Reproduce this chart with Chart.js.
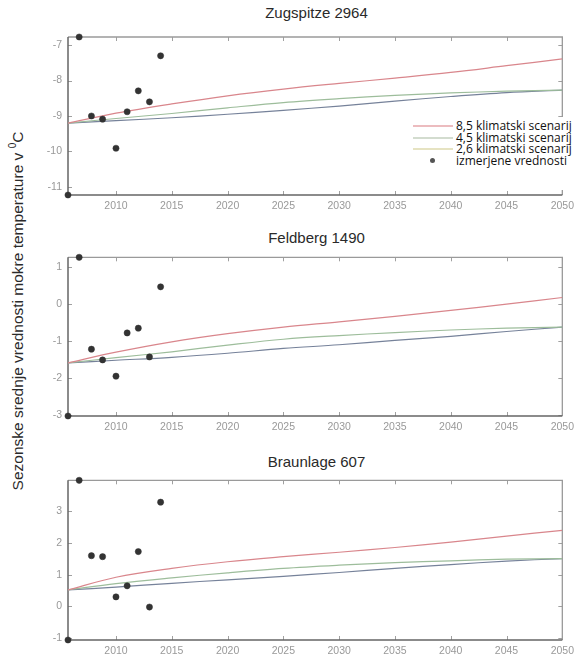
<!DOCTYPE html>
<html>
<head>
<meta charset="utf-8">
<script src="https://cdn.jsdelivr.net/npm/chart.js"></script>
<style>
    body { margin: 0; width: 579px; height: 657px; overflow: hidden; background: #fff; position: relative; font-family: 'Liberation Sans', Arial, sans-serif; }
    canvas { position: absolute; left: 0; }
    .naslov { position: absolute; left: 68px; width: 497px; text-align: center; font-size: 15px; font-weight: normal; line-height: 18px; color: #2a2a2a; }
    #ylabel { position: absolute; left: 17px; top: 311px; transform: translate(-50%, -50%) rotate(-90deg); white-space: nowrap; font-size: 15.5px; color: #2a2a2a; }
    #ylabel sup { font-size: 10px; }
    #legenda { position: absolute; left: 402px; top: 117px; width: 190px; height: 73px; background: #fff; font-family: 'Open Sans', sans-serif; font-size: 12px; color: #111; }
    .vrstica { position: absolute; left: 0; height: 12px; line-height: 12px; white-space: nowrap; }
    .crta { position: absolute; left: 11px; top: 5px; width: 40px; height: 2px; }
    .pika { position: absolute; left: 28px; top: 3px; width: 5px; height: 5px; border-radius: 50%; background: #555; }
    .besedilo { position: absolute; left: 54px; top: 0; }
</style>
</head>
<body>

<div class="naslov" style="top:4px">Zugspitze 2964</div>
<div class="naslov" style="top:229px">Feldberg 1490</div>
<div class="naslov" style="top:453px">Braunlage 607</div>
<div id="ylabel">Sezonske srednje vrednosti mokre temperature v <sup>0</sup>C</div>

<canvas id="graf-zugspitze" width="579" height="200" style="top:22px"></canvas>
<canvas id="graf-feldberg" width="579" height="200" style="top:245px"></canvas>
<canvas id="graf-braunlage" width="579" height="189" style="top:468px"></canvas>

<div id="legenda"></div>

<script>
// years of the scenario curves and of the measurements
const leta = [2005.7, 2010, 2015, 2020, 2025, 2030, 2035, 2040, 2045, 2050];
const letaMeritev = [2007.8, 2008.8, 2010, 2011, 2012, 2013, 2014];
const xTicks = [2010, 2015, 2020, 2025, 2030, 2035, 2040, 2045, 2050];

const oznake = ['8,5 klimatski scenarij', '4,5 klimatski scenarij', '2,6 klimatski scenarij', 'izmerjene vrednosti'];

// Zugspitze 2964
const zugRcp85 = [-9.2, -8.92, -8.66, -8.43, -8.24, -8.08, -7.93, -7.77, -7.58, -7.39];
const zugRcp45 = [-9.2, -9.07, -8.93, -8.77, -8.62, -8.51, -8.42, -8.35, -8.3, -8.27];
const zugRcp26 = [-9.2, -9.13, -9.05, -8.95, -8.84, -8.72, -8.58, -8.45, -8.34, -8.27];
const zugMeritve = [-9.0, -9.09, -9.91, -8.88, -8.29, -8.6, -7.3];
const zugY = [-11.23, -6.77];

// Feldberg 1490
const felRcp85 = [-1.59, -1.3, -1.02, -0.8, -0.62, -0.48, -0.33, -0.17, 0.0, 0.18];
const felRcp45 = [-1.59, -1.45, -1.29, -1.11, -0.95, -0.85, -0.77, -0.7, -0.65, -0.62];
const felRcp26 = [-1.59, -1.52, -1.44, -1.33, -1.2, -1.1, -0.98, -0.87, -0.74, -0.62];
const felMeritve = [-1.22, -1.51, -1.95, -0.78, -0.65, -1.43, 0.47];
const felY = [-3.03, 1.27];

// Braunlage 607
const brRcp85 = [0.52, 0.92, 1.2, 1.41, 1.57, 1.71, 1.86, 2.03, 2.22, 2.4];
const brRcp45 = [0.52, 0.72, 0.9, 1.06, 1.2, 1.3, 1.38, 1.44, 1.49, 1.51];
const brRcp26 = [0.52, 0.61, 0.73, 0.84, 0.95, 1.07, 1.2, 1.32, 1.43, 1.51];
const brMeritve = [1.6, 1.57, 0.3, 0.65, 1.73, -0.02, 3.29];
const brY = [-1.06, 3.98];

const xMin = 2005.7;
const xMax = 2050;

const barve = ['#d9868c', '#9dbd9b', '#76829a', '#333333'];
const barveLegenda = ['#ecbcbf', '#d3dccf', '#e6e3c2'];

// box round the plot and small inward ticks on all 4 sides (matlab look)
const okvir = {
    id: 'okvir',
    beforeDatasetsDraw(chart) {
        const a = chart.chartArea;
        const ctx = chart.ctx;
        const xs = chart.scales.x;
        const ys = chart.scales.y;
        ctx.save();
        ctx.lineWidth = 1;
        ctx.strokeStyle = '#a0a0a0';
        xs.ticks.forEach(t => {
            const px = Math.round(xs.getPixelForValue(t.value)) + 0.5;
            ctx.beginPath();
            ctx.moveTo(px, a.bottom); ctx.lineTo(px, a.bottom - 4);
            ctx.moveTo(px, a.top); ctx.lineTo(px, a.top + 4);
            ctx.stroke();
        });
        ys.ticks.forEach(t => {
            const py = Math.round(ys.getPixelForValue(t.value)) + 0.5;
            ctx.beginPath();
            ctx.moveTo(a.left, py); ctx.lineTo(a.left + 4, py);
            ctx.moveTo(a.right, py); ctx.lineTo(a.right - 4, py);
            ctx.stroke();
        });
        ctx.strokeStyle = '#9a9a9a';
        ctx.lineWidth = 1.3;
        ctx.beginPath();
        ctx.moveTo(a.left, a.top); ctx.lineTo(a.right, a.top); ctx.lineTo(a.right, a.bottom);
        ctx.stroke();
        ctx.strokeStyle = '#666';
        ctx.lineWidth = 1.5;
        ctx.beginPath();
        ctx.moveTo(a.left, a.top); ctx.lineTo(a.left, a.bottom); ctx.lineTo(a.right, a.bottom);
        ctx.stroke();
        ctx.restore();
    }
};

function tocke(xs, ys) {
    return xs.map((x, i) => ({ x: x, y: ys[i] }));
}

function napraviGraf(id, rcp85, rcp45, rcp26, meritve, yRange, padTop, xAxisH) {
    // the two odd markers sitting on the frame corners in the original
    const meritvePike = tocke(letaMeritev, meritve);
    meritvePike.push({ x: 2006.7, y: yRange[1] });
    meritvePike.push({ x: xMin, y: yRange[0] });

    const crta = (podatki, barva) => ({
        data: tocke(leta, podatki),
        showLine: true,
        borderColor: barva,
        borderWidth: 1.2,
        pointRadius: 0,
        tension: 0.35,
        order: 2
    });

    return new Chart(document.getElementById(id), {
        type: 'scatter',
        data: {
            datasets: [
                crta(rcp85, barve[0]),
                crta(rcp45, barve[1]),
                crta(rcp26, barve[2]),
                {
                    data: meritvePike,
                    pointRadius: 3.1,
                    pointBackgroundColor: barve[3],
                    pointBorderColor: barve[3],
                    pointBorderWidth: 0.5,
                    clip: false,
                    order: 1
                }
            ]
        },
        options: {
            responsive: false,
            animation: false,
            layout: { padding: { top: padTop, right: 14, left: 0, bottom: 0 } },
            plugins: { legend: { display: false }, tooltip: { enabled: false } },
            scales: {
                x: {
                    type: 'linear',
                    min: xMin,
                    max: xMax,
                    afterFit: s => { s.height = xAxisH; },
                    afterBuildTicks: s => { s.ticks = xTicks.map(v => ({ value: v })); },
                    grid: { display: false, drawTicks: false },
                    border: { display: false },
                    ticks: {
                        padding: 5,
                        color: '#999',
                        font: { family: 'Liberation Sans', size: 10.5 },
                        callback: v => String(v)
                    }
                },
                y: {
                    min: yRange[0],
                    max: yRange[1],
                    afterFit: s => { s.width = 68; },
                    grid: { display: false, drawTicks: false },
                    border: { display: false },
                    ticks: {
                        stepSize: 1,
                        includeBounds: false,
                        padding: 6,
                        color: '#999',
                        font: { family: 'Liberation Sans', size: 10.5 }
                    }
                }
            }
        },
        plugins: [okvir]
    });
}

function narediLegendo() {
    const leg = document.getElementById('legenda');
    const vrh = [3, 14.5, 26, 37.5];
    oznake.forEach((txt, i) => {
        const v = document.createElement('div');
        v.className = 'vrstica';
        v.style.top = vrh[i] + 'px';
        if (i < 3) {
            v.innerHTML = `<div class="crta" style="background:${barveLegenda[i]}"></div>`;
        } else {
            v.innerHTML = '<div class="pika"></div>';
        }
        v.innerHTML += `<span class="besedilo">${txt}</span>`;
        leg.appendChild(v);
    });
}

napraviGraf('graf-zugspitze', zugRcp85, zugRcp45, zugRcp26, zugMeritve, zugY, 15, 27);
napraviGraf('graf-feldberg', felRcp85, felRcp45, felRcp26, felMeritve, felY, 12, 29);
napraviGraf('graf-braunlage', brRcp85, brRcp45, brRcp26, brMeritve, brY, 12, 17);
narediLegendo();
</script>
</body>
</html>
